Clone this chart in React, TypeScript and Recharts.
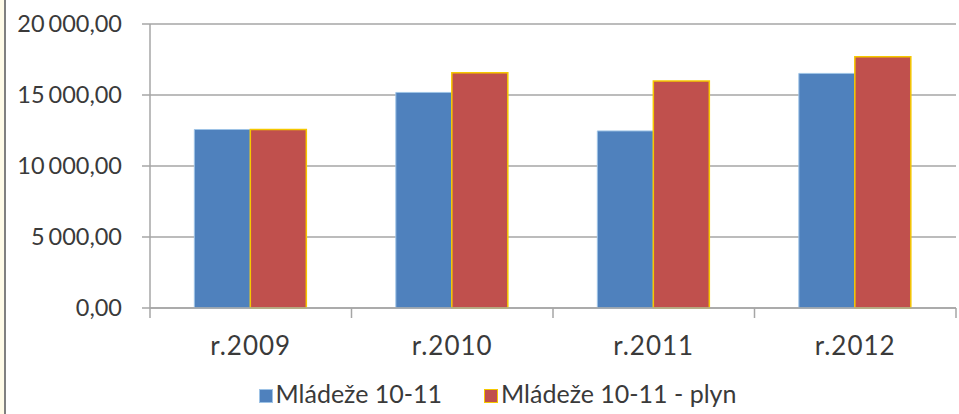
import { BarChart, Bar, CartesianGrid, XAxis, YAxis, Legend } from 'recharts';

const years = ['r.2009', 'r.2010', 'r.2011', 'r.2012'];
const mladeze = [12570, 15180, 12470, 16520];
const mladezePlyn = [12570, 16560, 15990, 17690];
const yTicks = [0, 5000, 10000, 15000, 20000];

const seriesNames = ['Mládeže 10-11', 'Mládeže 10-11 - plyn'];

const data = years.map((year, i) => ({
  year,
  a: mladeze[i],
  b: mladezePlyn[i],
}));

const FONT = 'Lato, "Open Sans", sans-serif';
const TEXT = '#3a3a3a';
const GRID = '#a6a6a6';
const BLUE = '#4f81bd';
const RED = '#c0504d';
const GOLD = '#f5c800';

const W = 959;
const H = 414;
const LEFT = 150;
const RIGHT = 3;
const BAND = (W - LEFT - RIGHT) / years.length;

// "20 000,00" -> ["20", "000,00"], drawn with a tight gap like the original
const splitNum = (v: number) => {
  const [int, dec] = v.toFixed(2).split('.');
  const groups = int.replace(/\B(?=(\d{3})+(?!\d))/g, ' ').split(' ');
  groups[groups.length - 1] += ',' + dec;
  return groups;
};

function YTick(props: any) {
  const { x, y, payload } = props;
  const parts = splitNum(payload.value);
  return (
    <text x={x} y={y} dy={8} textAnchor="end" fill={TEXT} fontSize={23.5} fontFamily={FONT}>
      {parts.map((p, i) => (
        <tspan key={i} dx={i === 0 ? 0 : 4}>
          {p}
        </tspan>
      ))}
    </text>
  );
}

function XTick(props: any) {
  const { x, y, payload } = props;
  const edge = x + BAND / 2;
  return (
    <g>
      <line x1={edge} y1={y} x2={edge} y2={y + 10} stroke={GRID} strokeWidth={1.5} />
      {payload.index === 0 && (
        <line x1={x - BAND / 2} y1={y} x2={x - BAND / 2} y2={y + 10} stroke={GRID} strokeWidth={1.5} />
      )}
      <text x={x} y={y + 47} textAnchor="middle" fill={TEXT} fontSize={26} fontFamily={FONT} letterSpacing={1}>
        {payload.value}
      </text>
    </g>
  );
}

function LegendBox() {
  const items = [
    { name: seriesNames[0], fill: BLUE, stroke: '#9ec3e6' },
    { name: seriesNames[1], fill: RED, stroke: GOLD },
  ];
  return (
    <div style={{ display: 'flex', justifyContent: 'center', gap: 42, paddingLeft: 36, fontFamily: FONT, fontSize: 25, color: TEXT, lineHeight: '31px' }}>
      {items.map((it) => (
        <div key={it.name} style={{ display: 'flex', alignItems: 'center' }}>
          <span
            style={{
              display: 'inline-block',
              width: 12,
              height: 12,
              background: it.fill,
              border: `1px solid ${it.stroke}`,
              marginRight: 3,
              marginTop: 4,
            }}
          />
          <span>{it.name}</span>
        </div>
      ))}
    </div>
  );
}

export default function App() {
  return (
    <div style={{ position: 'absolute', left: 0, top: 0, width: W, height: H, background: '#fff' }}>
      <div style={{ position: 'absolute', left: 0, top: 0, width: 4, height: H, background: '#fffbe8' }} />
      <div style={{ position: 'absolute', left: 4, top: 0, width: 2, height: H, background: '#808080' }} />
      <BarChart
        width={W}
        height={H}
        data={data}
        margin={{ top: 24, right: RIGHT, bottom: 76, left: 0 }}
        barGap={0}
        barCategoryGap="22%"
      >
        <CartesianGrid vertical={false} stroke={GRID} strokeWidth={1.5} />
        <XAxis
          dataKey="year"
          height={30}
          axisLine={{ stroke: GRID, strokeWidth: 1.5 }}
          tickLine={false}
          tickSize={0}
          tickMargin={0}
          tick={<XTick />}
          interval={0}
        />
        <YAxis
          width={LEFT}
          domain={[0, 20000]}
          ticks={yTicks}
          axisLine={{ stroke: GRID, strokeWidth: 1.5 }}
          tickLine={{ stroke: GRID, strokeWidth: 1.5 }}
          tickSize={8}
          tickMargin={20}
          tick={<YTick />}
        />
        <Legend
          verticalAlign="middle"
          content={<LegendBox />}
          wrapperStyle={{ top: 378, left: 0, width: W }}
        />
        <Bar dataKey="a" name={seriesNames[0]} fill={BLUE} stroke="#9ec3e6" strokeWidth={1} isAnimationActive={false} />
        <Bar dataKey="b" name={seriesNames[1]} fill={RED} stroke={GOLD} strokeWidth={1.5} isAnimationActive={false} />
      </BarChart>
    </div>
  );
}
